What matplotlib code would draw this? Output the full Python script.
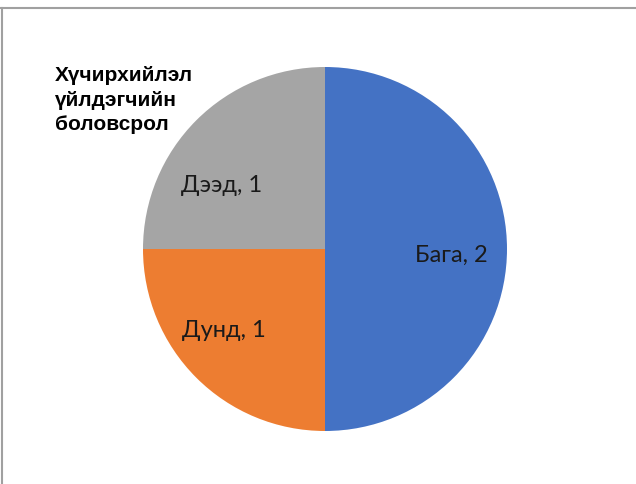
import matplotlib
matplotlib.use("Agg")
import matplotlib.pyplot as plt
from matplotlib.lines import Line2D

categories = ["Бага", "Дунд", "Дээд"]
values = [2, 1, 1]
colors = ["#4472C4", "#ED7D31", "#A5A5A5"]
title = "Хүчирхийлэл\nүйлдэгчийн\nболовсрол"
label_pos = [(0.692, -0.066), (-0.555, -0.478), (-0.566, 0.319)]

plt.rcParams['font.family'] = ['Liberation Sans', 'DejaVu Sans']

W, H = 636, 485
fig = plt.figure(figsize=(W / 100, H / 100), dpi=100)
cx, cy, r = 325, 250, 182
ax = fig.add_axes([(cx - r) / W, (H - cy - r) / H, 2 * r / W, 2 * r / H])
ax.pie(values, colors=colors, startangle=90, counterclock=False, radius=1,
       wedgeprops=dict(linewidth=0))
ax.set_xlim(-1, 1)
ax.set_ylim(-1, 1)
ax.set_aspect('equal')
ax.axis('off')

for cat, v, (x, y) in zip(categories, values, label_pos):
    ax.text(x, y, f"{cat}, {v}", ha='center', va='baseline', fontsize=17,
            color='#1a1a1a', family=['Lato', 'DejaVu Sans'])

fig.text(55 / W, 1 - 66 / H, title, ha='left', va='top', fontsize=15,
         fontweight='bold', linespacing=1.38, color='black')

fig.add_artist(Line2D([0, 1], [1 - 9 / H, 1 - 9 / H], transform=fig.transFigure,
                      color='#A0A0A0', linewidth=1.5))
fig.add_artist(Line2D([2 / W, 2 / W], [0, 1 - 9 / H], transform=fig.transFigure,
                      color='#A0A0A0', linewidth=1.5))

fig.savefig("out.png", dpi=100)
